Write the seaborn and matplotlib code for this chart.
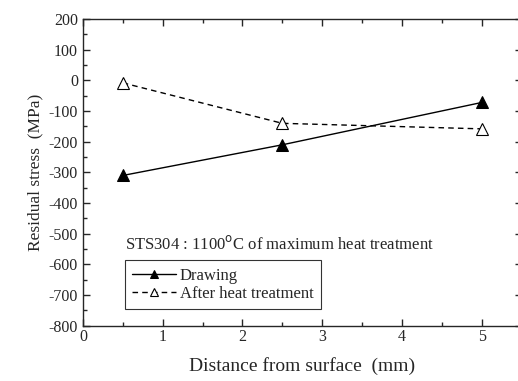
import numpy as np
import pandas as pd
import seaborn as sns
import matplotlib.pyplot as plt
from matplotlib.ticker import MultipleLocator

# values
depth = [0.5, 2.5, 5.0]
drawing = [-310, -210, -72]
after_heat = [-8, -140, -158]

df = pd.DataFrame({
    "depth": depth * 2,
    "stress": drawing + after_heat,
    "series": ["Drawing"] * 3 + ["After heat treatment"] * 3,
})

sns.set_style("ticks")
plt.rcParams['font.family'] = ['Liberation Serif', 'DejaVu Serif']
plt.rcParams['axes.unicode_minus'] = False

fig = plt.figure(figsize=(5.18, 3.81), dpi=100)
ax = fig.add_axes([0.160, 0.145, 0.847, 0.805])

g = sns.lineplot(data=df[df.series == "Drawing"], x="depth", y="stress", ax=ax,
                 color="black", lw=1, marker="^", markersize=9,
                 markerfacecolor="black", markeredgecolor="black", label="Drawing")
sns.lineplot(data=df[df.series == "After heat treatment"], x="depth", y="stress", ax=ax,
             color="black", lw=1, linestyle=(0, (4, 3)), marker="^", markersize=9,
             markerfacecolor="white", markeredgecolor="black", markeredgewidth=0.8,
             label="After heat treatment")

ax.set_xlim(0, 5.5)
ax.set_ylim(-800, 200)
ax.xaxis.set_major_locator(MultipleLocator(1))
ax.xaxis.set_minor_locator(MultipleLocator(0.5))
ax.yaxis.set_major_locator(MultipleLocator(100))
ax.yaxis.set_minor_locator(MultipleLocator(50))
ax.tick_params(which="both", direction="in", top=True, right=True, labelsize=11.5, width=1)
ax.tick_params(which="major", length=5)
ax.tick_params(which="minor", length=3)
ax.tick_params(axis="x", pad=2)
for s in ax.spines.values():
    s.set_linewidth(1)

ax.set_xlabel("Distance from surface  (mm)", fontsize=14, labelpad=9)
ax.set_ylabel("Residual stress  (MPa)", fontsize=12.5, labelpad=4)

ax.text(0.53, -535, "STS304 : 1100$^{\\mathrm{o}}$C of maximum heat treatment", fontsize=12,
        va="center", ha="left")
leg = ax.legend(loc="upper left", bbox_to_anchor=(0.096, 0.213), frameon=True, fancybox=False,
                edgecolor="black", fontsize=12, handlelength=2.6, handletextpad=0.25,
                borderpad=0.45, labelspacing=0.1, markerscale=0.7, borderaxespad=0)
leg.get_frame().set_linewidth(0.8)

plt.savefig("out.png", dpi=100)
